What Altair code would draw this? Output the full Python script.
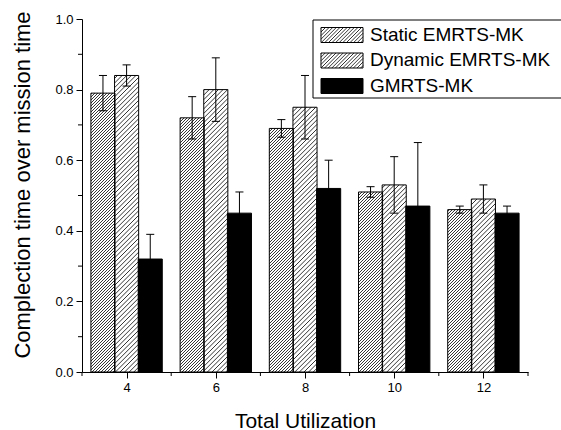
import math
import altair as alt
import pandas as pd

# ---------------- data ----------------
utilization = [4, 6, 8, 10, 12]
series = ["Static EMRTS-MK", "Dynamic EMRTS-MK", "GMRTS-MK"]
static_mean = [0.79, 0.72, 0.69, 0.51, 0.46]
static_err = [0.05, 0.06, 0.025, 0.015, 0.01]
dynamic_mean = [0.84, 0.80, 0.75, 0.53, 0.49]
dynamic_err = [0.03, 0.09, 0.09, 0.08, 0.04]
gmrts_mean = [0.32, 0.45, 0.52, 0.47, 0.45]
gmrts_err = [0.07, 0.06, 0.08, 0.18, 0.02]

x_ticks = [4, 6, 8, 10, 12]
x_minor = [3, 5, 7, 9, 11, 13]
y_ticks = [0.0, 0.2, 0.4, 0.6, 0.8, 1.0]
y_minor = [0.1, 0.3, 0.5, 0.7, 0.9]

# ---------------- layout ----------------
W, H = 446, 353
XMIN, XMAX = 3, 13
offsets = [-0.53, 0.0, 0.53]
half_w = 0.27
cap = 0.09
fills = ["white", "white", "black"]
hatch_period = [3.0, 4.6, None]

def d2x(v):
    return (v - XMIN) / (XMAX - XMIN) * W

def d2y(v):
    return (1 - v) * H

def x2d(px):
    return XMIN + px / W * (XMAX - XMIN)

def y2d(py):
    return 1 - py / H

def hatch(x0, x1, yt, yb, p):
    segs = []
    cmin, cmax = x0 + yt, x1 + yb
    k = math.ceil(cmin / p)
    while k * p <= cmax:
        c = k * p
        xa = max(x0, c - yb)
        xb = min(x1, c - yt)
        if xb - xa > 0.4:
            segs.append((xa, c - xa, xb, c - xb))
        k += 1
    return segs

means = [static_mean, dynamic_mean, gmrts_mean]
errs = [static_err, dynamic_err, gmrts_err]

bar_rows, hatch_rows = [], []
for s, name in enumerate(series):
    for i, u in enumerate(utilization):
        c = u + offsets[s]
        v, e = means[s][i], errs[s][i]
        bar_rows.append(dict(series=name, c=c, x0=c - half_w, x1=c + half_w,
                             cl=c - cap, cr=c + cap, v=v, lo=v - e, hi=v + e))
        if hatch_period[s]:
            for (xa, ya, xb, yb) in hatch(d2x(c - half_w), d2x(c + half_w), d2y(v), d2y(0), hatch_period[s]):
                hatch_rows.append(dict(series=name, hx=x2d(xa), hy=y2d(ya), hx2=x2d(xb), hy2=y2d(yb)))

bars = pd.DataFrame(bar_rows)
hatches = pd.DataFrame(hatch_rows)

# legend geometry (pixels relative to plot origin) converted to data space
leg_rows, leg_hatch = [], []
for s, name in enumerate(series):
    cy = 16 + 25.5 * s
    sx0, sx1, sy0, sy1 = 239, 281, cy - 7.5, cy + 7.5
    leg_rows.append(dict(series=name, sx0=x2d(sx0), sx1=x2d(sx1), sy0=y2d(sy0), sy1=y2d(sy1),
                         tx=x2d(288), ty=y2d(cy - 0.5)))
    if hatch_period[s]:
        for (xa, ya, xb, yb) in hatch(sx0, sx1, sy0, sy1, 3.6):
            leg_hatch.append(dict(series=name, hx=x2d(xa), hy=y2d(ya), hx2=x2d(xb), hy2=y2d(yb)))
legend = pd.DataFrame(leg_rows)
legend_hatch = pd.DataFrame(leg_hatch)
legend_box = pd.DataFrame([dict(bx0=x2d(231), bx1=x2d(482), by0=y2d(1), by1=y2d(79))])

FONT = "Liberation Sans"
xscale = alt.Scale(domain=[XMIN, XMAX], nice=False, zero=False)
yscale = alt.Scale(domain=[0, 1], nice=False)
fill_scale = alt.Scale(domain=series, range=fills)

xaxis = alt.Axis(values=x_ticks, format="d", tickSize=6, labelFontSize=13, labelPadding=3,
                 title="Total Utilization", titleFontSize=21, titleFontWeight="normal",
                 titleY=55, titleBaseline="alphabetic", grid=False)
yaxis = alt.Axis(values=y_ticks, format=".1f", tickSize=6, labelFontSize=13, labelPadding=3,
                 title="Complection time over mission time", titleFontSize=22,
                 titleFontWeight="normal", titleAngle=270, titleX=-59.5, titleY=165.5,
                 titleAlign="center", titleBaseline="middle", grid=False)

base_bar = alt.Chart(bars)

bar_fill = base_bar.mark_rect(strokeWidth=0).encode(
    x=alt.X("x0:Q", scale=xscale, axis=xaxis),
    x2="x1:Q",
    y=alt.Y("v:Q", scale=yscale, axis=yaxis),
    y2=alt.datum(0),
    fill=alt.Fill("series:N", scale=fill_scale, legend=None),
)

bar_hatch = alt.Chart(hatches).mark_rule(color="black", strokeWidth=0.8).encode(
    x=alt.X("hx:Q", scale=xscale), y=alt.Y("hy:Q", scale=yscale),
    x2="hx2:Q", y2="hy2:Q",
)

bar_outline = base_bar.mark_rect(fillOpacity=0, stroke="black", strokeWidth=1).encode(
    x=alt.X("x0:Q", scale=xscale), x2="x1:Q",
    y=alt.Y("v:Q", scale=yscale), y2=alt.datum(0),
)

err_line = base_bar.mark_rule(color="black", strokeWidth=1).encode(
    x=alt.X("c:Q", scale=xscale), y=alt.Y("lo:Q", scale=yscale), y2="hi:Q",
)
err_cap_hi = base_bar.mark_rule(color="black", strokeWidth=1).encode(
    x=alt.X("cl:Q", scale=xscale), x2="cr:Q", y=alt.Y("hi:Q", scale=yscale),
)
err_cap_lo = base_bar.mark_rule(color="black", strokeWidth=1).encode(
    x=alt.X("cl:Q", scale=xscale), x2="cr:Q", y=alt.Y("lo:Q", scale=yscale),
)

minor_x = alt.Chart(pd.DataFrame({"m": x_minor})).mark_rule(color="black", strokeWidth=1).encode(
    x=alt.X("m:Q", scale=xscale), y=alt.value(H), y2=alt.value(H + 4),
)
minor_y = alt.Chart(pd.DataFrame({"m": y_minor})).mark_rule(color="black", strokeWidth=1).encode(
    y=alt.Y("m:Q", scale=yscale), x=alt.value(0), x2=alt.value(-4),
)

leg_box = alt.Chart(legend_box).mark_rect(fill="white", stroke="black", strokeWidth=1).encode(
    x=alt.X("bx0:Q", scale=xscale), x2="bx1:Q", y=alt.Y("by0:Q", scale=yscale), y2="by1:Q",
)
leg_fill = alt.Chart(legend).mark_rect(strokeWidth=0).encode(
    x=alt.X("sx0:Q", scale=xscale), x2="sx1:Q", y=alt.Y("sy0:Q", scale=yscale), y2="sy1:Q",
    fill=alt.Fill("series:N", scale=fill_scale, legend=None),
)
leg_hatch_layer = alt.Chart(legend_hatch).mark_rule(color="black", strokeWidth=0.8).encode(
    x=alt.X("hx:Q", scale=xscale), y=alt.Y("hy:Q", scale=yscale), x2="hx2:Q", y2="hy2:Q",
)
leg_outline = alt.Chart(legend).mark_rect(fillOpacity=0, stroke="black", strokeWidth=1).encode(
    x=alt.X("sx0:Q", scale=xscale), x2="sx1:Q", y=alt.Y("sy0:Q", scale=yscale), y2="sy1:Q",
)
leg_text = alt.Chart(legend).mark_text(align="left", baseline="middle", fontSize=19,
                                        font=FONT, color="black").encode(
    x=alt.X("tx:Q", scale=xscale), y=alt.Y("ty:Q", scale=yscale), text="series:N",
)

chart = alt.layer(
    bar_fill, bar_hatch, bar_outline, err_line, err_cap_hi, err_cap_lo,
    minor_x, minor_y, leg_box, leg_fill, leg_hatch_layer, leg_outline, leg_text,
).properties(
    width=W, height=H,
    autosize=alt.AutoSizeParams(type="none"),
    padding={"left": 82, "top": 19, "right": 33, "bottom": 58},
    background="white",
).configure_view(stroke=None).configure_axis(
    domainColor="black", tickColor="black", labelColor="black", titleColor="black",
    labelFont=FONT, titleFont=FONT, domainWidth=1, tickWidth=1,
)

chart.save("out.html", embed_options={"renderer": "svg", "actions": False})
